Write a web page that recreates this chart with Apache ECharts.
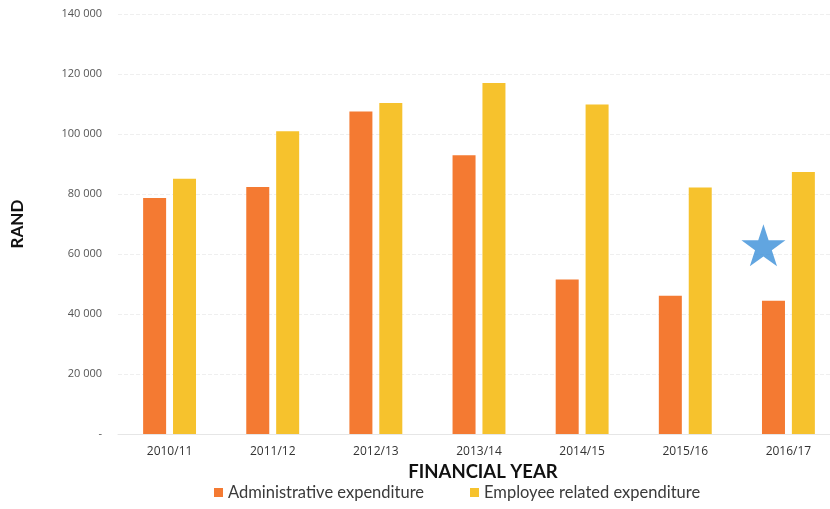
<!DOCTYPE html>
<html>
<head>
<meta charset="utf-8">
<script src="https://cdn.jsdelivr.net/npm/echarts@6/dist/echarts.min.js"></script>
<style>
  html, body { margin: 0; padding: 0; background: #fff; overflow: hidden; }
  /* a little wider than the window: the last category runs off the right edge in the original */
  #chart { width: 850px; height: 509px; }
</style>
</head>
<body>
<div id="chart"></div>
<script>
// financial years on the x axis
const years = ['2010/11', '2011/12', '2012/13', '2013/14', '2014/15', '2015/16', '2016/17'];
// values in rand
const adminExp = [78700, 82300, 107500, 92900, 51500, 46100, 44400];
const employeeExp = [85100, 100900, 110300, 117000, 109800, 82200, 87300];
// the blue star next to 2016/17
const starPoint = [['2016/17', 62900]];

const starPath = 'path://M50,0 L61.8,36.2 L100,36.2 L69.1,58.8 L80.9,95.1 L50,72.7 L19.1,95.1 L30.9,58.8 L0,36.2 L38.2,36.2 Z';

const chart = echarts.init(document.getElementById('chart'));

const option = {
  backgroundColor: '#ffffff',
  animation: false,
  textStyle: { fontFamily: 'Lato, "Open Sans", sans-serif' },
  grid: {
    left: 118,
    top: 14,
    width: 722,
    height: 420,
  },
  legend: {
    data: ['Administrative expenditure', 'Employee related expenditure'],
    bottom: 3,
    left: 209,
    itemWidth: 9,
    itemHeight: 9,
    itemGap: 46,
    icon: 'rect',
    textStyle: { color: '#3a3a3a', fontSize: 16.5, fontFamily: 'Lato, sans-serif' },
  },
  xAxis: {
    type: 'category',
    data: years,
    name: 'FINANCIAL YEAR',
    nameLocation: 'middle',
    nameGap: 26,
    nameTextStyle: {
      color: '#111', fontSize: 18.5, fontWeight: 'bold', fontFamily: 'Lato, sans-serif',
      padding: [0, 0, 0, 8],
    },
    axisLine: { lineStyle: { color: '#e6e6e6' } },
    axisTick: { show: false },
    axisLabel: { color: '#333', fontSize: 12, margin: 12, fontFamily: '"Open Sans", sans-serif' },
  },
  yAxis: {
    type: 'value',
    min: 0,
    max: 140000,
    interval: 20000,
    name: 'RAND',
    nameLocation: 'middle',
    nameGap: 92,
    nameRotate: 90,
    nameTextStyle: { color: '#111', fontSize: 17, fontWeight: 'bold', fontFamily: 'Lato, sans-serif' },
    axisLine: { show: false },
    axisTick: { show: false },
    splitLine: { lineStyle: { color: '#efefef', type: 'dashed' } },
    axisLabel: {
      color: '#555',
      fontSize: 11,
      margin: 16,
      fontFamily: '"Open Sans", sans-serif',
      formatter: function (v) {
        if (v === 0) return '-';
        return String(v / 1000) + ' 000';
      },
    },
  },
  series: [
    {
      name: 'Administrative expenditure',
      type: 'bar',
      barWidth: 23,
      barGap: '30%',
      itemStyle: { color: '#f47a32' },
      data: adminExp,
    },
    {
      name: 'Employee related expenditure',
      type: 'bar',
      barWidth: 23,
      itemStyle: { color: '#f6c22d' },
      data: employeeExp,
    },
    {
      name: 'star',
      type: 'scatter',
      symbol: starPath,
      symbolSize: [44, 42],
      symbolOffset: [-25, 0],
      itemStyle: { color: '#3a8ed8' },
      z: 5,
      data: starPoint,
    },
  ],
};

chart.setOption(option);
</script>
</body>
</html>
